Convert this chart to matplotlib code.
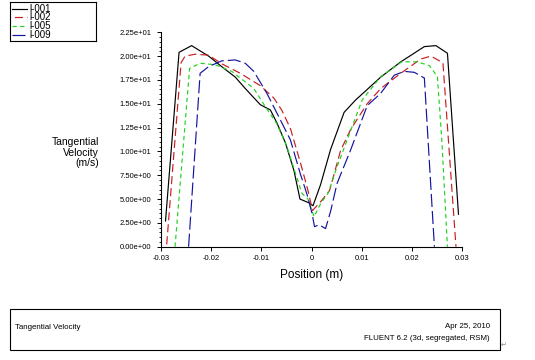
import numpy as np
import matplotlib
matplotlib.use("Agg")
import matplotlib.pyplot as plt
from matplotlib.ticker import AutoMinorLocator, FuncFormatter
from matplotlib.lines import Line2D
from matplotlib.patches import Rectangle

plt.rcParams['font.family'] = ['Liberation Sans', 'DejaVu Sans']
plt.rcParams['lines.scale_dashes'] = False

# data
x_001 = [-0.0291, -0.0264, -0.0239, -0.0205, -0.0179, -0.0152, -0.0132, -0.0102, -0.0082,
         -0.0069, -0.0052, -0.0035, -0.0023, -0.0005, 0.0003, 0.0018, 0.0038, 0.0065,
         0.0088, 0.0111, 0.0138, 0.0178, 0.0225, 0.0248, 0.0271, 0.0293]
y_001 = [2.7, 20.4, 21.1, 20.0, 18.9, 17.8, 16.6, 14.9, 14.35,
         13.0, 10.9, 8.0, 5.0, 4.6, 4.3, 6.5, 10.2, 14.1,
         15.4, 16.5, 17.8, 19.4, 21.0, 21.1, 20.3, 3.4]

x_002 = [-0.0289, -0.0260, -0.0252, -0.0232, -0.0205, -0.0179, -0.0142, -0.0102, -0.0075,
         -0.0059, -0.0042, -0.0022, -0.0007, 0.0002, 0.0018, 0.0036, 0.0058, 0.0078,
         0.0111, 0.0138, 0.0178, 0.0218, 0.0238, 0.0262, 0.0288]
y_002 = [0.0, 19.3, 20.0, 20.2, 20.1, 19.2, 18.2, 16.9, 15.6,
         14.3, 12.4, 8.8, 5.9, 3.8, 4.7, 5.9, 10.1, 12.3,
         15.0, 16.6, 18.2, 19.7, 20.0, 19.3, 0.0]

x_005 = [-0.0272, -0.0243, -0.0222, -0.0192, -0.0159, -0.0132, -0.0115, -0.0092, -0.0069,
         -0.0049, -0.0032, -0.0019, -0.0007, 0.0005, 0.0019, 0.0033, 0.0051, 0.0071,
         0.0101, 0.0138, 0.0180, 0.0211, 0.0235, 0.0251, 0.0260, 0.0271]
y_005 = [0.0, 18.7, 19.25, 19.1, 18.4, 17.3, 16.6, 14.7, 12.9,
         10.5, 7.7, 5.6, 5.0, 3.15, 4.6, 5.6, 8.4, 11.2,
         15.4, 17.85, 19.4, 19.4, 19.0, 17.85, 11.0, 0.0]

x_009 = [-0.0245, -0.0222, -0.0205, -0.0179, -0.0152, -0.0132, -0.0115, -0.0089, -0.0062,
         -0.0042, -0.0022, -0.0009, 0.0001, 0.0006, 0.0015, 0.0028, 0.0038, 0.0051,
         0.0078, 0.0111, 0.0138, 0.0165, 0.0185, 0.0205, 0.0225, 0.0245]
y_009 = [0.0, 18.2, 18.9, 19.5, 19.6, 19.25, 18.4, 16.1, 13.3,
         11.2, 7.6, 5.5, 3.5, 2.1, 2.3, 1.9, 3.7, 6.65,
         10.15, 14.8, 16.1, 18.0, 18.4, 18.3, 17.7, 0.0]

labels = ["l-001", "l-002", "l-005", "l-009"]
colors = ["#000000", "#c81e1e", "#1ed21e", "#1414a0"]
styles = ["-", (7, (5.8, 2.9)), (0, (3.1, 2.4)), (0, (9.4, 2.9))]
xs = [x_001, x_002, x_005, x_009]
ys = [y_001, y_002, y_005, y_009]

xticks = [-0.03, -0.02, -0.01, 0, 0.01, 0.02, 0.03]
yticks = np.arange(0, 22.5 + 0.01, 2.5)

W, H = 535, 360
fig = plt.figure(figsize=(W / 100, H / 100), dpi=100)
fig.patch.set_facecolor("white")

ax = fig.add_axes([161 / W, 1 - 246.7 / H, 301 / W, 214.4 / H])
for x, y, c, s in zip(xs, ys, colors, styles):
    ax.plot(x, y, color=c, linestyle=s, lw=0.85)

ax.set_xlim(-0.03, 0.03)
ax.set_ylim(0, 22.5)
ax.set_xticks(xticks)
ax.xaxis.set_major_formatter(FuncFormatter(lambda v, p: f"{round(v, 4):g}" if abs(v) > 1e-9 else "0"))
ax.set_yticks(yticks)
ax.yaxis.set_major_formatter(FuncFormatter(lambda v, p: "%.2e" % v))
ax.yaxis.set_minor_locator(AutoMinorLocator(5))
for side in ["top", "right"]:
    ax.spines[side].set_visible(False)
for side in ["left", "bottom"]:
    ax.spines[side].set_linewidth(0.8)
ax.tick_params(axis="y", which="major", length=3.2, width=0.7, pad=3.8, labelsize=5.5)
ax.tick_params(axis="y", which="minor", length=1.6, width=0.6)
ax.tick_params(axis="x", which="major", length=3, width=0.7, pad=2.8, labelsize=5.5)
ax.set_xlabel("Position (m)", fontsize=8.5, labelpad=5)

fig.text(99 / W, 1 - 152.5 / H, "Tangential\nVelocity\n(m/s)", ha="right", va="center",
         multialignment="right", fontsize=7.5, linespacing=1.1)

# legend box
lax = fig.add_axes([10 / W, 1 - 41 / H, 86 / W, 39 / H])
lax.set_xlim(0, 86)
lax.set_ylim(39, 0)
lax.set_xticks([])
lax.set_yticks([])
for sp in lax.spines.values():
    sp.set_linewidth(0.8)
for i, (lab, c, s) in enumerate(zip(labels, colors, styles)):
    yy = 6.5 + i * 8.9
    lax.add_line(Line2D([2.3, 16.7], [yy, yy], color=c, linestyle=s, lw=0.85))
    lax.text(19, yy, lab, fontsize=7, va="center", ha="left")

# footer box
fig.patches.append(Rectangle((10 / W, 1 - 350 / H), 490 / W, 41 / H, transform=fig.transFigure,
                             fill=False, edgecolor="black", lw=0.8))
fig.text(15 / W, 1 - 327.5 / H, "Tangential Velocity", fontsize=5.7, ha="left", va="center")
fig.text(490 / W, 1 - 326.5 / H, "Apr 25, 2010", fontsize=5.7, ha="right", va="center")
fig.text(490 / W, 1 - 338.5 / H, "FLUENT 6.2 (3d, segregated, RSM)", fontsize=5.7, ha="right", va="center")
fig.text(504 / W, 1 - 345 / H, "\u21b5", fontsize=5, color="#888888", ha="center", va="center",
         family="DejaVu Sans")

fig.savefig("out.png", dpi=100)
